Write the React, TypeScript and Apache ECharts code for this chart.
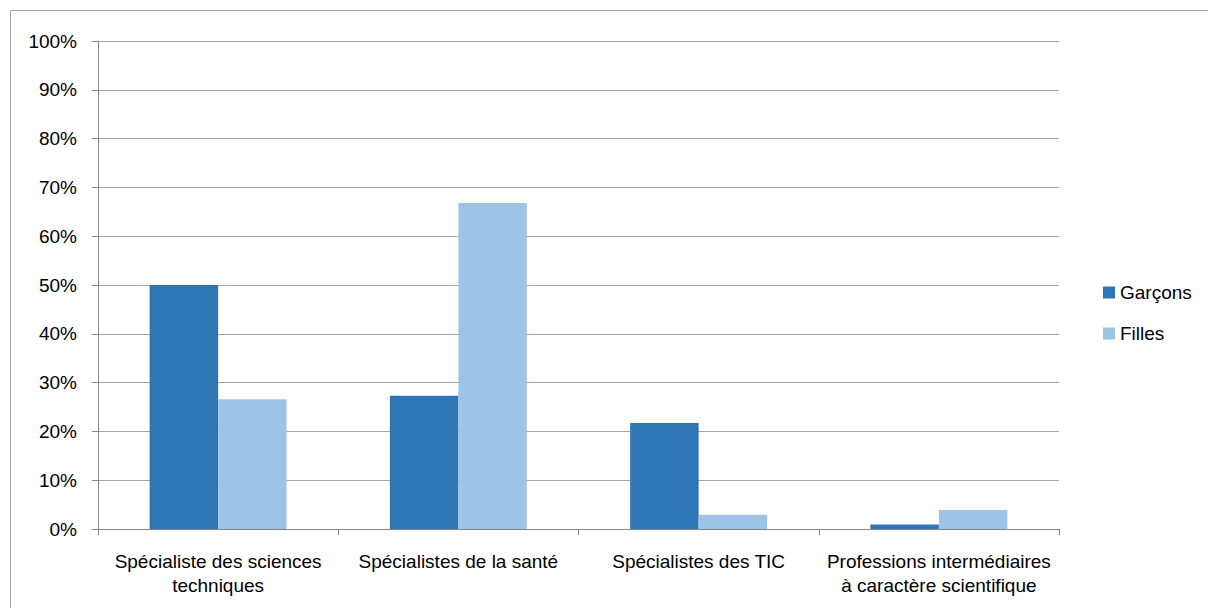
import React, { useEffect, useRef } from "react";
import * as echarts from "echarts";

const categories = [
  "Spécialiste des sciences\ntechniques",
  "Spécialistes de la santé",
  "Spécialistes des TIC",
  "Professions intermédiaires\nà caractère scientifique",
];
const garcons = [50, 27.3, 21.7, 0.9];
const filles = [26.6, 66.8, 2.9, 3.9];
const seriesNames = ["Garçons", "Filles"];

export default function App() {
  const ref = useRef<HTMLDivElement>(null);
  useEffect(() => {
    document.body.style.margin = "0";
    const chart = echarts.init(ref.current!, null, { renderer: "svg" });
    const font = "'Liberation Sans', Arial, sans-serif";
    chart.setOption({
      animation: false,
      backgroundColor: "#ffffff",
      graphic: [
        {
          type: "rect",
          shape: { x: 10.5, y: 10.5, width: 1230, height: 640 },
          style: { fill: "none", stroke: "#a6a6a6", lineWidth: 1 },
          silent: true,
        },
      ],
      legend: {
        orient: "vertical",
        left: 1098,
        top: 278,
        itemWidth: 12,
        itemHeight: 12,
        itemGap: 22,
        icon: "rect",
        textStyle: { fontFamily: font, fontSize: 19, color: "#000" },
        data: seriesNames,
      },
      grid: { left: 98, right: 149, top: 41, bottom: 79 },
      xAxis: {
        type: "category",
        data: categories,
        axisLine: { lineStyle: { color: "#868686", width: 1 } },
        axisTick: { show: true, length: 6, lineStyle: { color: "#868686" } },
        axisLabel: {
          fontFamily: font,
          fontSize: 19,
          color: "#000",
          margin: 20,
          lineHeight: 24,
          interval: 0,
        },
      },
      yAxis: {
        type: "value",
        min: 0,
        max: 100,
        interval: 10,
        axisLine: { show: true, lineStyle: { color: "#868686", width: 1 } },
        axisTick: { show: true, length: 6, lineStyle: { color: "#868686" } },
        splitLine: { lineStyle: { color: "#a6a6a6", width: 1 } },
        axisLabel: {
          fontFamily: font,
          fontSize: 19,
          color: "#000",
          margin: 21,
          formatter: "{value}%",
        },
      },
      series: [
        {
          name: seriesNames[0],
          type: "bar",
          data: garcons,
          barGap: "0%",
          barCategoryGap: "43%",
          itemStyle: { color: "#2e75b6" },
        },
        {
          name: seriesNames[1],
          type: "bar",
          data: filles,
          barGap: "0%",
          barCategoryGap: "43%",
          itemStyle: { color: "#9dc3e6" },
        },
      ],
    });
    return () => chart.dispose();
  }, []);
  return <div ref={ref} style={{ width: 1208, height: 608 }} />;
}
